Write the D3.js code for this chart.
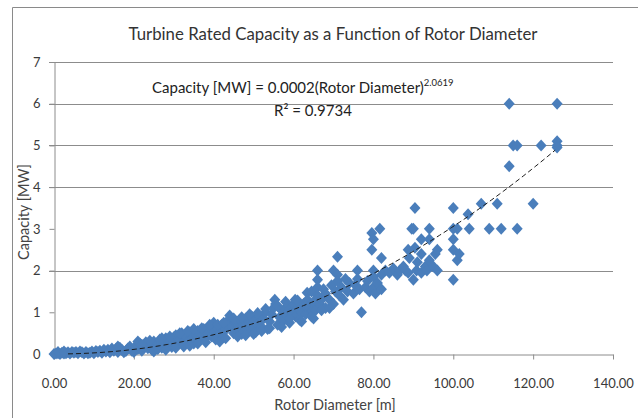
<!DOCTYPE html>
<html>
<head>
<meta charset="utf-8">
<script src="https://cdn.jsdelivr.net/npm/d3@7"></script>
<style>
  body { margin: 0; background: #fff; }
  svg { display: block; font-family: Lato, "Open Sans", sans-serif; }
</style>
</head>
<body>
<svg id="chart" width="638" height="418"></svg>
<script>
// turbine data: [rotor diameter m, capacity MW]
var smallTurbines = [
  [0.5,0.01],[1,0.02],[1.5,0],[2,0.03],[2.5,0.01],[3,0.02],[3.5,0.04],[4,0.01],[5,0.03],[5.5,0.05],
  [6,0.02],[7,0.04],[7.5,0.01],[8,0.05],[9,0.03],[9.5,0.06],[10,0.02],[11,0.05],[11.5,0.08],[12,0.03],
  [13,0.06],[13.5,0.1],[14,0.04],[15,0.08],[15.5,0.12],[16,0.05],[16.5,0.15],[17,0.1],[18,0.07],
  [18.5,0.13],[19,0.18],[20,0.1],[20,0.05],
  [20.5,0.2],[21,0.12],[21.5,0.25],[22,0.08],[22.5,0.18],[23,0.28],[23.5,0.14],[24,0.22],[24.5,0.1],
  [25,0.3],[25.5,0.18],[26,0.25],[26.5,0.35],[27,0.15],[27.5,0.28],[28,0.38],[28.5,0.22],[29,0.32],
  [29.5,0.17],[30,0.4],[30,0.28]
];
var midTurbines = [
  [30.5,0.45],[31,0.22],[31.5,0.35],[32,0.5],[32.5,0.28],[33,0.42],[33.5,0.3],[34,0.52],[34.5,0.38],
  [35,0.25],[35.5,0.46],[36,0.55],[36.5,0.33],[37,0.44],[37.5,0.6],[38,0.38],[38.5,0.5],[39,0.65],
  [39.5,0.42],[40,0.75],[40,0.55],[40.5,0.35],
  [41,0.62],[41.5,0.48],[42,0.7],[42.5,0.4],[43,0.58],[43.5,0.8],[44,0.92],[44.5,0.65],[45,0.5],
  [45.5,0.75],[46,0.6],[46.5,0.82],[47,0.48],[47.5,0.7],[48,0.85],[48.5,0.58],[49,0.75],[49.5,0.9],
  [50,0.62],[50,0.8],
  [50.5,0.52],[51,0.72],[51.5,0.9],[52,0.65],[52.5,0.85],[53,1.0],[53.5,0.6],[54,0.78],[54.5,0.95],
  [55,1.1],[55.3,1.3],[55.5,1.2],[56,0.7],[56.5,0.88],[57,1.05],[57.5,0.8],[58,0.95],[58.5,1.15],
  [59,0.75],[59.5,1.0],[60,1.2],[60.4,1.3],[60.5,0.9],[61,1.1],
  [61.5,0.82],[62,1.0],[62.5,1.2],[63,0.95],[63.4,1.47],[63.5,1.3],[64,1.1],[64.5,0.9],[64.5,1.5],
  [65,1.25],[65.5,1.05],[66,2.0],[66,1.78],[66,1.6],[66,1.4],[66.5,1.2],[67,1.3],[67.5,1.55],
  [68,1.1],[68,1.45],[69,1.3],[69.5,1.65],[70,1.2],[70,2.0],[70.5,1.5]
];
// extra turbines filling out the thick part of the band
var bandTurbines = [
  [0,0],[1,0.05],[2.5,0.06],[4.5,0.05],[6.5,0.06],[8.5,0.02],[10.5,0.07],[12.5,0.1],[14.5,0.13],
  [16,0.18],[17.5,0.04],[19.5,0.08],[21,0.3],[22,0.22],[24,0.32],[25,0.06],[26,0.12],[27,0.38],
  [28,0.1],[29,0.42],[30.5,0.15],[31.5,0.5],[32.5,0.18],[33.5,0.55],[34,0.2],[35,0.6],[36,0.25],
  [37,0.62],[38,0.28],[39,0.7],[41,0.7],[41.5,0.3],[42.5,0.75],[43,0.38],[45,0.85],[46,0.42],
  [47,0.88],[48,0.45],[49,0.95],[50,0.48],[51,0.98],[52,0.55],[53,1.08],[54,0.62],[56,1.15],
  [57,0.65],[58,1.25],[59,0.85],[61,1.28],[62,0.78],[63,1.15],[65,0.85],[67,1.05],[69,1.1]
];
var largeTurbines = [
  [71,2.33],[71,1.9],[71,1.75],[71.5,1.4],[72,1.6],[72.5,1.3],[73,1.8],[73.5,1.5],[74,1.7],[75,1.45],
  [75.5,1.65],[76,2.0],[76,1.8],[76.5,1.55],[77,1.0],[78,1.6],[78.5,1.75],[79,1.5],[79.6,2.9],
  [79.6,2.5],[80,2.75],[80,2.0],[80,1.85],[80,1.6],[80.5,1.45],[81,1.7],[81.6,3.0],[82,2.3],[82,1.9],
  [82,1.55],
  [83,2.0],[84,1.95],[85,2.05],[86,1.9],[86.6,2.0],[87.5,2.1],[88,2.0],[88.7,2.5],[88.7,1.95],[89,2.3],
  [89.6,3.0],[90,1.78],[90,3.0],[90.4,3.5],[90.4,2.55],[90.8,2.0],[91,2.2],[92,2.75],[92,2.4],[92,1.95],
  [93,2.1],[93.4,2.0],[94,3.0],[94,2.75],[94,2.25],[95,2.1],[95.5,2.4],[96,2.5],[96,2.0],
  [100,3.5],[100,3.0],[100,2.75],[100,2.5],[100,1.78],[101,3.0],[101,2.25],[101.5,2.4],[103.7,3.35],
  [104,3.0],[107,3.6],[109,3.0],[111,3.6],[112,3.0],[114,6.0],[114,4.5],[115,5.0],[116,5.0],[116,3.0],
  [120,3.6],[122,5.0],[126,6.0],[126,5.1],[126,5.0],[126,4.95]
];

var xTicks = [0, 20, 40, 60, 80, 100, 120, 140];
var yTicks = [0, 1, 2, 3, 4, 5, 6, 7];
var gridValues = [2, 4, 5, 6, 7];   // 1 and 3 are faded out in the source

// power trendline, drawn with the coefficient that matches the plotted curve
var trendCoef = 0.00023, trendExp = 2.0619;
var trendRange = [3.5, 126];

var svg = d3.select("#chart");
var x = d3.scaleLinear().domain([0, 140]).range([54, 613]);
var y = d3.scaleLinear().domain([0, 7]).range([354, 62]);

// outer chart border
svg.append("path")
    .attr("d", "M12.5,418 L12.5,7.5 L638,7.5")
    .attr("fill", "none")
    .attr("stroke", "#8a8a8a");

// gridlines
svg.append("g").selectAll("line")
    .data(gridValues)
    .enter().append("line")
    .attr("x1", 49).attr("x2", x(140))
    .attr("y1", function (d) { return Math.round(y(d)) + 0.5; })
    .attr("y2", function (d) { return Math.round(y(d)) + 0.5; })
    .attr("stroke", "#8c8c8c");

// axes
var xAxis = svg.append("g")
    .attr("transform", "translate(0,354.5)")
    .call(d3.axisBottom(x).tickValues(xTicks).tickFormat(d3.format(".2f")).tickSize(5).tickSizeOuter(0));
var yAxis = svg.append("g")
    .attr("transform", "translate(54.5,0)")
    .call(d3.axisLeft(y).tickValues(yTicks).tickFormat(d3.format("d")).tickSize(5).tickSizeOuter(0));

[xAxis, yAxis].forEach(function (a) {
    a.select(".domain").attr("stroke", "#8c8c8c");
    a.selectAll(".tick line").attr("stroke", "#8c8c8c");
    a.selectAll(".tick text")
        .attr("fill", "#3a3a3a")
        .style("font-family", "Lato, sans-serif")
        .style("font-size", "13px");
});
xAxis.selectAll(".tick text").attr("dy", "0").attr("y", 33);
yAxis.selectAll(".tick text").attr("x", -14);

// points
var allPoints = smallTurbines.concat(midTurbines, bandTurbines, largeTurbines);
var diamond = "M0,-6 L5.5,0 L0,6 L-5.5,0 Z";
svg.append("g").selectAll("path")
    .data(allPoints)
    .enter().append("path")
    .attr("d", diamond)
    .attr("transform", function (d) { return "translate(" + x(d[0]) + "," + y(d[1]) + ")"; })
    .attr("fill", "#4a7ebb");

// trendline
var trendXs = d3.range(trendRange[0], trendRange[1] + 0.01, 1);
svg.append("path")
    .datum(trendXs)
    .attr("d", d3.line()
        .x(function (d) { return x(d); })
        .y(function (d) { return y(trendCoef * Math.pow(d, trendExp)); }))
    .attr("fill", "none")
    .attr("stroke", "#1a1a1a")
    .attr("stroke-width", 1)
    .attr("stroke-dasharray", "5,3");

// titles
svg.append("text")
    .attr("x", 333).attr("y", 40)
    .attr("text-anchor", "middle")
    .attr("fill", "#333")
    .style("font-size", "16.8px")
    .text("Turbine Rated Capacity as a Function of Rotor Diameter");

svg.append("text")
    .attr("x", 335).attr("y", 410)
    .attr("text-anchor", "middle")
    .attr("fill", "#444")
    .style("font-size", "14.5px")
    .text("Rotor Diameter [m]");

svg.append("text")
    .attr("transform", "translate(29,212) rotate(-90)")
    .attr("text-anchor", "middle")
    .attr("fill", "#444")
    .style("font-size", "14.5px")
    .text("Capacity [MW]");

// equation label
var eq = svg.append("text")
    .attr("x", 152).attr("y", 93)
    .attr("fill", "#222")
    .style("font-size", "15px");
eq.append("tspan").text("Capacity [MW] = 0.0002(Rotor Diameter)");
eq.append("tspan").attr("dy", -7).style("font-size", "9.5px").text("2.0619");

var r2 = svg.append("text")
    .attr("x", 313).attr("y", 116)
    .attr("text-anchor", "middle")
    .attr("fill", "#222")
    .style("font-size", "15px");
r2.text("R² = 0.9734");
</script>
</body>
</html>
